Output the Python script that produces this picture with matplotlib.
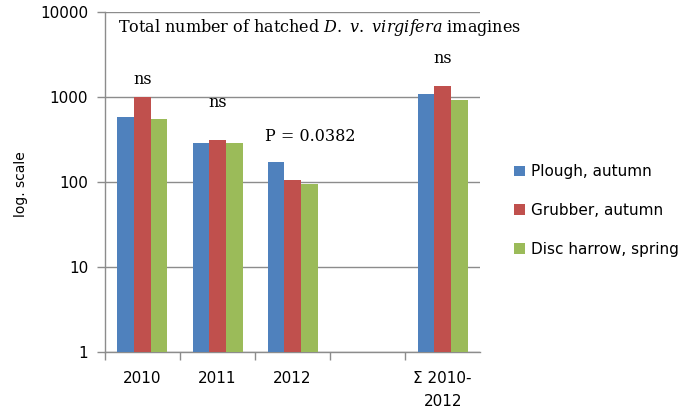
import matplotlib
matplotlib.use("Agg")
import matplotlib.pyplot as plt
import numpy as np
from matplotlib.patches import Patch

categories = ["2010", "2011", "2012", "", "\u03a3 2010-\n2012"]
series_names = ["Plough, autumn", "Grubber, autumn", "Disc harrow, spring"]
plough = [577, 285, 173, np.nan, 1080]
grubber = [1000, 312, 106, np.nan, 1360]
disc = [546, 285, 94, np.nan, 930]
annotations = ["ns", "ns", "P = 0.0382", "", "ns"]
annot_y = [1585, 850, 338, None, 2870]
colors = ["#4F81BD", "#C0504D", "#9BBB59"]

fig = plt.figure(figsize=(6.86, 4.13), dpi=100)
ax = fig.add_axes([0.153, 0.148, 0.547, 0.823])

x = np.arange(len(categories))
w = 0.222
for i, (vals, c) in enumerate(zip([plough, grubber, disc], colors)):
    ax.bar(x + (i - 1) * w, vals, width=w, color=c, bottom=0, zorder=3)

ax.set_yscale("log")
ax.set_ylim(1, 10000)
ax.set_xlim(-0.5, len(categories) - 0.5)
ax.set_yticks([1, 10, 100, 1000, 10000])
ax.set_yticklabels(["1", "10", "100", "1000", "10000"])
ax.minorticks_off()
ax.yaxis.grid(True, color="#8c8c8c", linewidth=1.0, zorder=0)
ax.set_axisbelow(True)

ax.set_xticks(x)
ax.set_xticklabels(categories, fontsize=11, linespacing=1.6)
ax.tick_params(axis="x", length=0, pad=14)
ax.set_xticks(np.arange(-0.5, len(categories) - 0.5, 1.0), minor=True)
ax.tick_params(axis="x", which="minor", length=6, color="#8c8c8c", width=1.0)
ax.tick_params(axis="y", length=6, color="#8c8c8c", width=1.0, labelsize=11, pad=6)

for s in ["top", "right"]:
    ax.spines[s].set_visible(False)
for s in ["left", "bottom"]:
    ax.spines[s].set_color("#8c8c8c")
    ax.spines[s].set_linewidth(1.0)

ax.set_ylabel("log. scale", fontsize=10)
ax.yaxis.set_label_coords(-0.205, 0.494)

ax.text(0.035, 0.955, "Total number of hatched $\\it{D.\\ v.\\ virgifera}$ imagines",
        transform=ax.transAxes, fontsize=11.5, family="DejaVu Serif",
        va="center", ha="left", math_fontfamily="dejavuserif")

for xi, t, yv in zip(x, annotations, annot_y):
    if t:
        off = 0.24 if t.startswith("P") else 0
        ax.text(xi + off, yv, t, ha="center", va="center", fontsize=11.5,
                family="DejaVu Serif")

handles = [Patch(facecolor=c, edgecolor="none") for c in colors]
fig.legend(handles, series_names, loc="center left", bbox_to_anchor=(0.729, 0.49),
           frameon=False, fontsize=11, handlelength=0.7, handleheight=0.7,
           handletextpad=0.4, labelspacing=1.55)

fig.savefig("out.png", dpi=100)
